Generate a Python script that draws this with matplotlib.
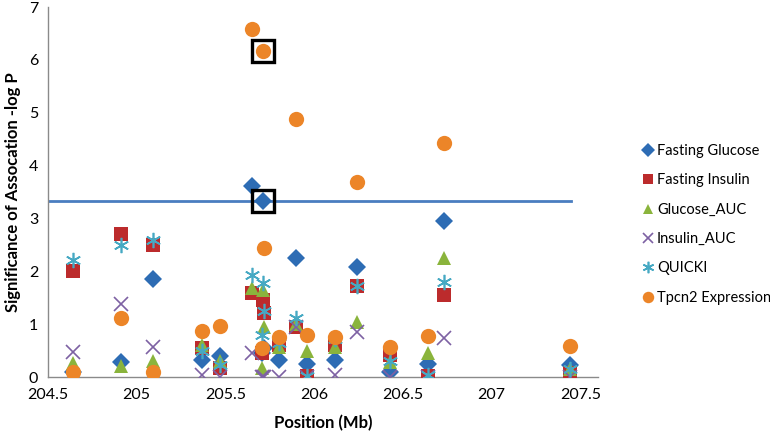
import matplotlib
matplotlib.use("Agg")
import matplotlib.pyplot as plt

# ---- data ----
positions = [204.64, 204.91, 205.09, 205.37, 205.47, 205.65, 205.71, 205.72, 205.705,
             205.80, 205.90, 205.96, 206.12, 206.24, 206.43, 206.64, 206.73, 207.44]

fasting_glucose = [0.10, 0.28, 1.85, 0.32, 0.40, 3.61, 3.33, 0.55, 0.45,
                   0.32, 2.25, 0.24, 0.32, 2.08, 0.10, 0.25, 2.96, 0.22]
fasting_insulin = [2.00, 2.70, 2.49, 0.55, 0.17, 1.58, 1.45, 1.21, 0.45,
                   0.60, 0.95, 0.02, 0.60, 1.72, 0.42, 0.02, 1.55, 0.07]
glucose_auc     = [0.26, 0.20, 0.30, 0.60, 0.30, 1.68, 1.64, 0.95, 0.17,
                   0.57, 1.00, 0.50, 0.57, 1.04, 0.28, 0.45, 2.25, 0.15]
insulin_auc     = [0.47, 1.38, 0.57, 0.03, 0.00, 0.45, 0.00, 0.00, 0.00,
                   0.00, 0.95, 0.00, 0.04, 0.85, 0.00, 0.00, 0.73, 0.00]
quicki          = [2.21, 2.50, 2.59, 0.50, 0.22, 1.93, 1.78, 1.25, 0.80,
                   0.65, 1.11, 0.02, 0.72, 1.72, 0.30, 0.03, 1.80, 0.15]
tpcn2_expr      = [0.10, 1.12, 0.09, 0.87, 0.97, 6.58, 6.16, 2.45, 0.55,
                   0.76, 4.89, 0.79, 0.76, 3.69, 0.57, 0.78, 4.43, 0.58]

series_names = ["Fasting Glucose", "Fasting Insulin", "Glucose_AUC",
                "Insulin_AUC", "QUICKI", "Tpcn2 Expression"]

threshold_x = [204.5, 207.45]
threshold_y = 3.33

# highlighted points (boxed): (series index, position index)
highlighted = [(5, 6), (0, 6)]

x_ticks = [204.5, 205, 205.5, 206, 206.5, 207, 207.5]
x_ticklabels = ["204.5", "205", "205.5", "206", "206.5", "207", "207.5"]
y_ticks = [0, 1, 2, 3, 4, 5, 6, 7]

# ---- styles ----
all_series = [fasting_glucose, fasting_insulin, glucose_auc, insulin_auc, quicki, tpcn2_expr]
styles = [
    dict(marker="D", color="#2D6CB4", ms=9.0, mew=0),
    dict(marker="s", color="#BC2B2C", ms=10.0, mew=0),
    dict(marker="^", color="#8AB43C", ms=10.5, mew=0),
    dict(marker="x", color="#7D61A3", ms=10.0, mew=1.2),
    dict(marker=(6, 2, 0), color="#46A9C3", ms=11.0, mew=1.2),
    dict(marker="o", color="#EC8528", ms=11.0, mew=0),
]

plt.rcParams["font.family"] = ["Lato", "DejaVu Sans"]

fig = plt.figure(figsize=(7.7, 4.36), dpi=100)
ax = fig.add_axes([0.0623, 0.1353, 0.7143, 0.8486])

ax.plot(threshold_x, [threshold_y, threshold_y], color="#4A7DC0", lw=2.0, zorder=1)

handles = []
for i, (vals, st, name) in enumerate(zip(all_series, styles, series_names)):
    h, = ax.plot(positions, vals, linestyle="none", marker=st["marker"],
                 color=st["color"], ms=st["ms"], mew=st["mew"],
                 label=name, zorder=2 + i)
    handles.append(h)

for si, pi in highlighted:
    ax.plot(positions[pi], all_series[si][pi], linestyle="none", marker="s",
            ms=16.5, mfc="none", mec="black", mew=2.4, zorder=20)

ax.set_xlim(204.5, 207.6)
ax.set_ylim(0, 7)
ax.set_xticks(x_ticks)
ax.set_xticklabels(x_ticklabels)
ax.set_yticks(y_ticks)
ax.tick_params(axis="x", length=0, labelsize=11.5, colors="black", pad=8)
ax.tick_params(axis="y", length=0, labelsize=11.5, colors="black", pad=7)
for s in ["top", "right"]:
    ax.spines[s].set_visible(False)
for s in ["left", "bottom"]:
    ax.spines[s].set_color("#8A8A8A")
    ax.spines[s].set_linewidth(1.0)

ax.set_xlabel("Position (Mb)", fontsize=12, fontweight="bold", labelpad=9)
ax.set_ylabel("Significance of Assocation -log P", fontsize=12, fontweight="bold", labelpad=6)

leg = fig.legend(handles=handles, loc="upper left", bbox_to_anchor=(0.825, 0.683),
                 frameon=False, fontsize=10.5, labelspacing=1.05, handletextpad=0.1,
                 handlelength=1.0, markerscale=0.75, borderaxespad=0)

fig.savefig("out.png", dpi=100)
